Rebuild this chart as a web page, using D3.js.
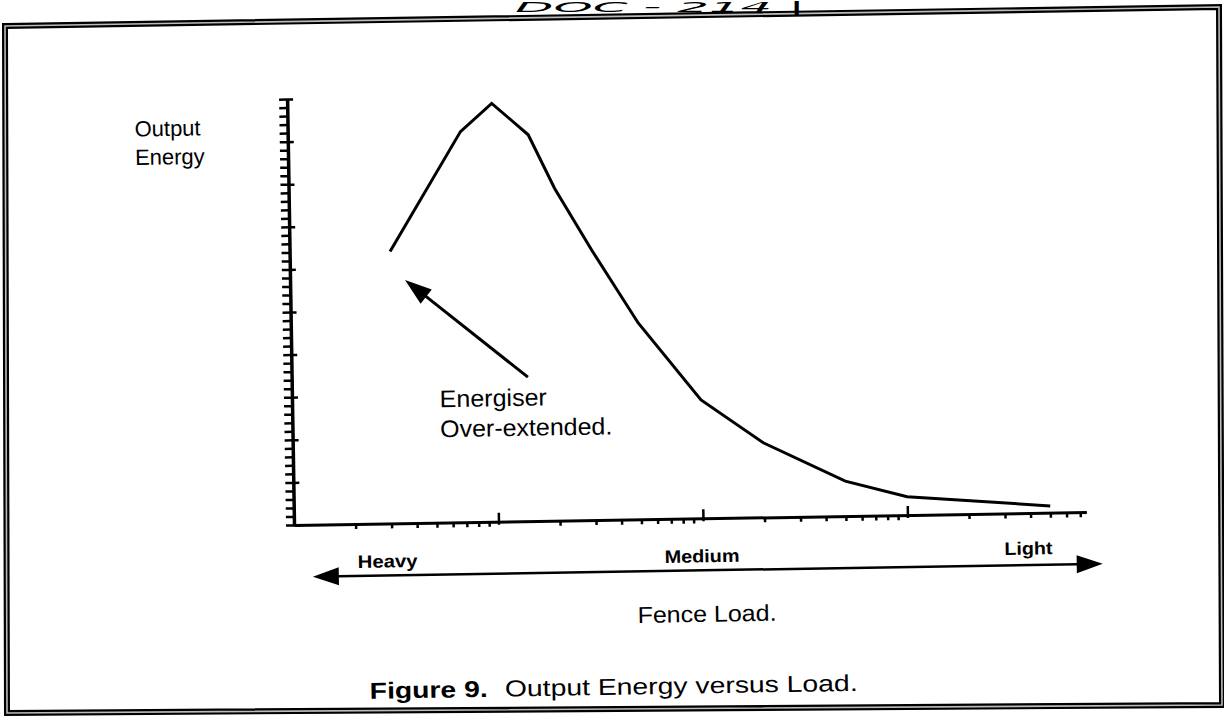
<!DOCTYPE html>
<html><head><meta charset="utf-8">
<script src="https://cdn.jsdelivr.net/npm/d3@7"></script>
<style>html,body{margin:0;padding:0;background:#fff;overflow:hidden}</style>
</head><body>
<svg id="chart" width="1224" height="725"></svg>
<script>
// ---- data ----
const loads  = [3.1, 7, 10, 15, 20, 30, 50, 100, 200, 500, 1000, 5000];
const energy = [6.38, 9.17, 9.82, 9.07, 7.8, 6.34, 4.61, 2.78, 1.75, 0.82, 0.43, 0.16];
const yMajorTicks = d3.range(0, 10.001, 1);
const yMinorTicks = d3.range(0, 10.001, 0.2);
const xMajorTicks = [1, 10, 100, 1000];
const xMinorTicks = [2,3,4,5,6,7,8,9,20,30,40,50,60,70,80,90,200,300,400,500,600,700,800,900,2000,3000,4000,5000,6000,7000];
const yTitle = ["Output", "Energy"];
const loadLabels = ["Heavy", "Medium", "Light"];
const xTitle = "Fence Load.";
const noteLines = ["Energiser", "Over-extended."];
const noteTip = [3.65, 5.71];
const noteTail = [14.3, 3.38];
const noteAnchor = [5.28, 2.71];
const figNum = "Figure 9.";
const figText = "Output Energy versus Load.";
const handNote = "DOC - 214 |";

// ---- drawing ----
const font = "'Liberation Sans', Arial, sans-serif";
const svg = d3.select("#chart");
svg.append("rect").attr("width",1224).attr("height",725).attr("fill","#fff");

// scanned double border
const border = [[5,26],[1219,7],[1222,705],[7,713]];
const bpath = "M" + border.map(p=>p.join(",")).join("L") + "Z";
svg.append("path").attr("d",bpath).attr("fill","none").attr("stroke","#000").attr("stroke-width",6);
svg.append("path").attr("d",bpath).attr("fill","none").attr("stroke","#bbb").attr("stroke-width",1.6);

// handwritten note at the top
svg.append("text").attr("x",515).attr("y",12).attr("font-family","'DejaVu Sans', sans-serif")
  .attr("font-style","italic").attr("font-size",14).attr("fill","#000")
  .attr("textLength",290).attr("lengthAdjust","spacingAndGlyphs").text(handNote);

const g = svg.append("g").attr("transform","rotate(-0.93,293,525)");

const x = d3.scaleLog().domain([1, 7500]).range([294, 294 + Math.log10(7500) * 204.5]);
const y = d3.scaleLinear().domain([0, 10]).range([525, 99]);

// x axis
const gxMinor = g.append("g").attr("transform","translate(0,525)")
  .call(d3.axisBottom(x).tickValues(xMinorTicks).tickSize(5).tickSizeOuter(0).tickFormat(""));
gxMinor.select(".domain").attr("stroke","#000").attr("stroke-width",3);
gxMinor.selectAll(".tick line").attr("stroke","#000").attr("stroke-width",2.5);
const gxMajUp = g.append("g").attr("transform","translate(0,525)")
  .call(d3.axisTop(x).tickValues(xMajorTicks.slice(1)).tickSize(9).tickFormat(""));
gxMajUp.select(".domain").remove();
gxMajUp.selectAll(".tick line").attr("stroke","#000").attr("stroke-width",2.5);
const gxMajDn = g.append("g").attr("transform","translate(0,525)")
  .call(d3.axisBottom(x).tickValues(xMajorTicks.slice(1)).tickSize(3).tickFormat(""));
gxMajDn.select(".domain").remove();
gxMajDn.selectAll(".tick line").attr("stroke","#000").attr("stroke-width",2.5);

// y axis
const gyMinor = g.append("g").attr("transform","translate(294,0)")
  .call(d3.axisLeft(y).tickValues(yMinorTicks).tickSize(8).tickSizeOuter(0).tickFormat(""));
gyMinor.select(".domain").attr("stroke","#000").attr("stroke-width",3.5);
gyMinor.selectAll(".tick line").attr("stroke","#000").attr("stroke-width",2.5);
const gyMajor = g.append("g").attr("transform","translate(294,0)")
  .call(d3.axisRight(y).tickValues(yMajorTicks).tickSize(6).tickFormat(""));
gyMajor.select(".domain").remove();
gyMajor.selectAll(".tick line").attr("stroke","#000").attr("stroke-width",2.5);

// curve
const pts = loads.map((l,i)=>({l, e: energy[i]}));
g.append("path").datum(pts)
  .attr("d", d3.line().x(d=>x(d.l)).y(d=>y(d.e)))
  .attr("fill","none").attr("stroke","#000").attr("stroke-width",3).attr("stroke-linejoin","miter");

// annotation arrow
const tx = x(noteTip[0]), ty = y(noteTip[1]);
const sx = x(noteTail[0]), sy = y(noteTail[1]);
const ang = Math.atan2(ty - sy, tx - sx);
const hl = 27, hw = 9;
const bx = tx - hl*Math.cos(ang), by = ty - hl*Math.sin(ang);
g.append("line").attr("x1",sx).attr("y1",sy).attr("x2",bx+4*Math.cos(ang)).attr("y2",by+4*Math.sin(ang))
  .attr("stroke","#000").attr("stroke-width",3);
g.append("path").attr("d", `M${tx},${ty}L${bx - hw*Math.sin(ang)},${by + hw*Math.cos(ang)}L${bx + hw*Math.sin(ang)},${by - hw*Math.cos(ang)}Z`)
  .attr("fill","#000");
noteLines.forEach((t,i)=>{
  g.append("text").attr("x", x(noteAnchor[0])).attr("y", y(noteAnchor[1]) + i*30)
    .attr("font-family",font).attr("font-size",24).attr("fill","#000")
    .attr("textLength", i===0 ? 107 : 172).attr("lengthAdjust","spacingAndGlyphs").text(t);
});

// y title
yTitle.forEach((t,i)=>{
  g.append("text").attr("x",141).attr("y",134 + i*28.5).attr("font-family",font)
    .attr("font-size",22).attr("fill","#000").text(t);
});

// load direction arrow
const ay = 577, ax1 = 312, ax2 = 1102;
g.append("line").attr("x1",ax1+10).attr("x2",ax2-10).attr("y1",ay).attr("y2",ay).attr("stroke","#000").attr("stroke-width",2.5);
g.append("path").attr("d",`M${ax1},${ay}L${ax1+26},${ay-9}L${ax1+26},${ay+9}Z`).attr("fill","#000");
g.append("path").attr("d",`M${ax2},${ay}L${ax2-26},${ay-9}L${ax2-26},${ay+9}Z`).attr("fill","#000");
const llPos = [[357,569,60],[664,569,75],[1004,566.5,48]];
loadLabels.forEach((t,i)=>{
  g.append("text").attr("x",llPos[i][0]).attr("y",llPos[i][1]).attr("font-family",font)
    .attr("font-weight","bold").attr("font-size",18).attr("fill","#000")
    .attr("textLength",llPos[i][2]).attr("lengthAdjust","spacingAndGlyphs").text(t);
});
g.append("text").attr("x",636).attr("y",628.5).attr("font-family",font).attr("font-size",23)
  .attr("fill","#000").attr("textLength",139).attr("lengthAdjust","spacingAndGlyphs").text(xTitle);

// figure caption
const cap = g.append("text").attr("x",367).attr("y",700).attr("font-family",font).attr("font-size",23)
  .attr("fill","#000").attr("textLength",488).attr("lengthAdjust","spacingAndGlyphs");
cap.append("tspan").attr("font-weight","bold").text(figNum);
cap.append("tspan").attr("dx",14).text(figText);
</script>
</body></html>
